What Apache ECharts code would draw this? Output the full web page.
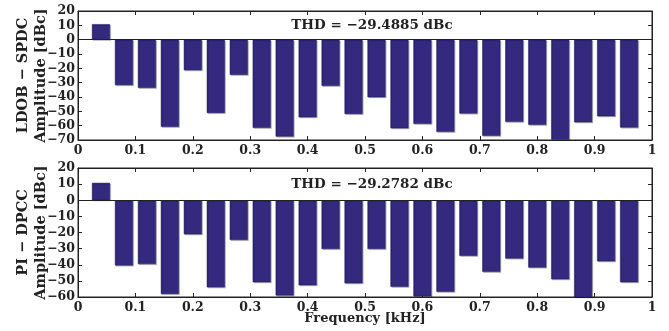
<!DOCTYPE html>
<html>
<head>
<meta charset="utf-8">
<script src="https://cdn.jsdelivr.net/npm/echarts@6/dist/echarts.min.js"></script>
<style>
  html, body { margin: 0; padding: 0; background: #fff; }
  #chart { width: 669px; height: 331px; }
</style>
</head>
<body>
<div id="chart"></div>
<script>
// Harmonic frequencies [kHz]
const freqs = [0.04, 0.08, 0.12, 0.16, 0.20, 0.24, 0.28, 0.32, 0.36, 0.40, 0.44, 0.48,
               0.52, 0.56, 0.60, 0.64, 0.68, 0.72, 0.76, 0.80, 0.84, 0.88, 0.92, 0.96];
// Amplitudes [dBc], LDOB - SPDC
const ampLdob = [10.8, -31.7, -33.6, -60.8, -21.3, -51.1, -24.5, -61.5, -67.6, -54.1, -32.2, -51.8,
                 -40.1, -61.8, -58.7, -64.3, -51.5, -67.1, -57.3, -59.4, -69.7, -57.6, -53.4, -61.3];
// Amplitudes [dBc], PI - DPCC
const ampPi = [10.8, -40.4, -39.6, -58.1, -21.1, -54.0, -24.6, -50.8, -59.0, -52.7, -30.2, -51.5,
               -30.2, -53.6, -59.6, -56.7, -34.4, -44.4, -36.1, -41.7, -49.0, -60.6, -37.9, -50.8];
const thdLdob = '−29.4885';
const thdPi = '−29.2782';
const yTitles = ['LDOB − SPDC\nAmplitude [dBc]', 'PI − DPCC\nAmplitude [dBc]'];
const yRanges = [[-70, 20], [-60, 20]];
const xTitle = 'Frequency [kHz]';

const FONT = 'DejaVu Serif';
const INK = '#222';
const barColor = '#34297f';

const chart = echarts.init(document.getElementById('chart'));

const grids = [
  { left: 78, right: 17, top: 11, height: 129 },
  { left: 78, right: 17, top: 168, height: 129 }
];

const tickLabel = { fontFamily: FONT, fontWeight: 'bold', fontSize: 12.5, color: INK };
const fmtNum = v => String(+v.toFixed(2)).replace('-', '−');
const tickStyle = { show: true, inside: true, length: 4, lineStyle: { color: INK } };
const lineStyle = { show: true, onZero: false, lineStyle: { color: INK } };

const xAxes = [], yAxes = [], series = [];
grids.forEach((g, i) => {
  g.show = true; g.borderColor = INK; g.borderWidth = 1;
  g.containLabel = false; g.outerBoundsMode = 'none';
  // bottom axis with labels
  xAxes.push({
    type: 'value', gridIndex: i, min: 0, max: 1, interval: 0.1, position: 'bottom',
    axisLine: lineStyle, axisTick: tickStyle,
    axisLabel: Object.assign({ margin: 4, formatter: fmtNum, showMinLabel: true, showMaxLabel: true }, tickLabel),
    splitLine: { show: false },
    name: i === 1 ? xTitle : '', nameLocation: 'middle', nameGap: 15, nameMoveOverlap: false,
    nameTextStyle: { fontFamily: FONT, fontWeight: 'bold', fontSize: 13, color: INK }
  });
  // mirrored top ticks
  xAxes.push({
    type: 'value', gridIndex: i, min: 0, max: 1, interval: 0.1, position: 'top',
    axisLine: lineStyle, axisTick: tickStyle,
    axisLabel: { show: false }, splitLine: { show: false }
  });
  yAxes.push({
    type: 'value', gridIndex: i, min: yRanges[i][0], max: yRanges[i][1], interval: 10, position: 'left',
    axisLine: lineStyle, axisTick: tickStyle,
    axisLabel: Object.assign({ margin: 3, formatter: fmtNum, showMinLabel: true, showMaxLabel: true }, tickLabel),
    splitLine: { show: false },
    name: yTitles[i], nameLocation: 'middle', nameGap: 28, nameRotate: 90, nameMoveOverlap: false,
    nameTextStyle: { fontFamily: FONT, fontWeight: 'bold', fontSize: 14.5, color: INK, lineHeight: 18 }
  });
  // mirrored right ticks
  yAxes.push({
    type: 'value', gridIndex: i, min: yRanges[i][0], max: yRanges[i][1], interval: 10, position: 'right',
    axisLine: lineStyle, axisTick: tickStyle,
    axisLabel: { show: false }, splitLine: { show: false }
  });
  const amps = i === 0 ? ampLdob : ampPi;
  series.push({
    type: 'bar', xAxisIndex: i * 2, yAxisIndex: i * 2,
    data: freqs.map((f, k) => [f, amps[k]]),
    barWidth: 18,
    clip: true,
    itemStyle: {
      color: barColor, borderColor: '#1f1960', borderWidth: 0.5,
      shadowColor: 'rgba(0,0,0,0.28)', shadowOffsetX: 1, shadowOffsetY: 1, shadowBlur: 0
    },
    markLine: {
      silent: true, symbol: 'none', label: { show: false },
      lineStyle: { color: INK, width: 1, type: 'solid' },
      data: [{ yAxis: 0 }]
    },
    animation: false
  });
});

const thdStyle = txt => ({
  text: 'THD = ' + txt + ' dBc', textAlign: 'center', textVerticalAlign: 'middle',
  font: 'bold 13.5px "' + FONT + '"', fill: INK
});

chart.setOption({
  animation: false,
  grid: grids,
  xAxis: xAxes,
  yAxis: yAxes,
  series: series,
  graphic: [
    { type: 'text', x: 372, y: 25, style: thdStyle(thdLdob) },
    { type: 'text', x: 372, y: 184, style: thdStyle(thdPi) }
  ]
});
</script>
</body>
</html>
